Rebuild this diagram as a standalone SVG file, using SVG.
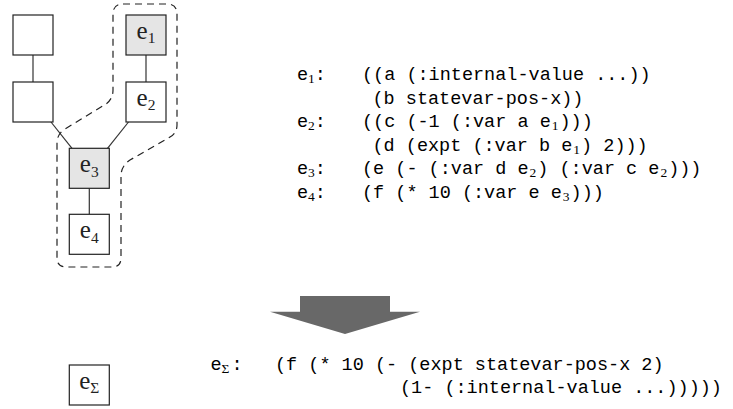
<svg xmlns="http://www.w3.org/2000/svg" width="733" height="409" viewBox="0 0 733 409">
<style>
.box{fill:#fff;stroke:#222;stroke-width:1.2}
.hl{fill:#e5e5e5}
.edge{stroke:#333;stroke-width:1.2;fill:none}
.lbl{font-family:"Liberation Serif","DejaVu Serif",serif;font-size:25px;fill:#222}
.lsub{font-size:15.5px}
.code{font-family:"Liberation Mono","DejaVu Sans Mono",monospace;font-size:18.5px;fill:#000}
.csub{font-family:"Liberation Serif","DejaVu Serif",serif;font-size:13.5px}
</style>
<rect width="733" height="409" fill="#fff"/>
<g id="connectors">
<line class="edge" x1="33" y1="55" x2="33" y2="82"/>
<line class="edge" x1="146" y1="55" x2="146" y2="82"/>
<line class="edge" x1="51" y1="122" x2="72" y2="148.3"/>
<line class="edge" x1="128.5" y1="122" x2="107.5" y2="148.3"/>
<line class="edge" x1="89.3" y1="188.3" x2="89.3" y2="214.3"/>
</g>
<g id="group-outline">
<path d="M 123,4 H 167 Q 177,4 177,14 V 125 Q 177,133 170,137 L 130,160 Q 121,166 121,176 V 258 Q 121,267 112,267 H 67 Q 57,267 57,258 V 143 Q 57,134 65,129 L 106,104 Q 113,99 113,90 V 14 Q 113,4 123,4 Z" fill="none" stroke="#222" stroke-width="1.2" stroke-dasharray="7 5"/>
</g>
<g id="n-a"><rect class="box" x="13" y="15" width="40" height="40"/></g>
<g id="n-b"><rect class="box" x="13" y="82" width="40" height="40"/></g>
<g id="n-e1"><rect class="box hl" x="126" y="15" width="40" height="40"/>
<text class="lbl" x="146" y="38.5" text-anchor="middle">e<tspan class="lsub" dy="4.5">1</tspan></text></g>
<g id="n-e2"><rect class="box" x="126" y="82" width="40" height="40"/>
<text class="lbl" x="146" y="105.5" text-anchor="middle">e<tspan class="lsub" dy="4.5">2</tspan></text></g>
<g id="n-e3"><rect class="box hl" x="69.3" y="148.3" width="40" height="40"/>
<text class="lbl" x="89.3" y="172" text-anchor="middle">e<tspan class="lsub" dy="4.5">3</tspan></text></g>
<g id="n-e4"><rect class="box" x="69.3" y="214.3" width="40" height="40"/>
<text class="lbl" x="89.3" y="238" text-anchor="middle">e<tspan class="lsub" dy="4.5">4</tspan></text></g>
<g id="n-esum"><rect class="box" x="69.3" y="365" width="40" height="40"/>
<text class="lbl" x="89.3" y="388.5" text-anchor="middle">e<tspan class="lsub" dy="4.5">Σ</tspan></text></g>
<g id="code">
<text class="code" x="297" y="80">e<tspan class="csub" dy="3">1</tspan><tspan dy="-3">:</tspan></text>
<text class="code" x="362" y="80">((a (:internal-value ...))</text>
<text class="code" x="372.5" y="103.5">(b statevar-pos-x))</text>
<text class="code" x="297" y="127">e<tspan class="csub" dy="3">2</tspan><tspan dy="-3">:</tspan></text>
<text class="code" x="362" y="127">((c (-1 (:var a e<tspan class="csub" dy="3" dx="1">1</tspan><tspan dy="-3" dx="1">)))</tspan></text>
<text class="code" x="372.5" y="150.5">(d (expt (:var b e<tspan class="csub" dy="3" dx="1">1</tspan><tspan dy="-3" dx="1">) 2)))</tspan></text>
<text class="code" x="297" y="174">e<tspan class="csub" dy="3">3</tspan><tspan dy="-3">:</tspan></text>
<text class="code" x="362" y="174">(e (- (:var d e<tspan class="csub" dy="3" dx="1">2</tspan><tspan dy="-3" dx="1">) (:var c e</tspan><tspan class="csub" dy="3" dx="1">2</tspan><tspan dy="-3" dx="1">)))</tspan></text>
<text class="code" x="297" y="197.5">e<tspan class="csub" dy="3">4</tspan><tspan dy="-3">:</tspan></text>
<text class="code" x="362" y="197.5">(f (* 10 (:var e e<tspan class="csub" dy="3" dx="1">3</tspan><tspan dy="-3" dx="1">)))</tspan></text>
<text class="code" x="210.5" y="370">e<tspan class="csub" dy="3">Σ</tspan><tspan dy="-3" dx="2">:</tspan></text>
<text class="code" x="275" y="370">(f (* 10 (- (expt statevar-pos-x 2)</text>
<text class="code" x="400" y="393">(1- (:internal-value ...)))))</text>
</g>
<g id="arrow">
<path d="M 300,296 H 390 V 311.7 H 420 L 345,334 L 270,311.7 H 300 Z" fill="#686868"/>
</g>
</svg>
